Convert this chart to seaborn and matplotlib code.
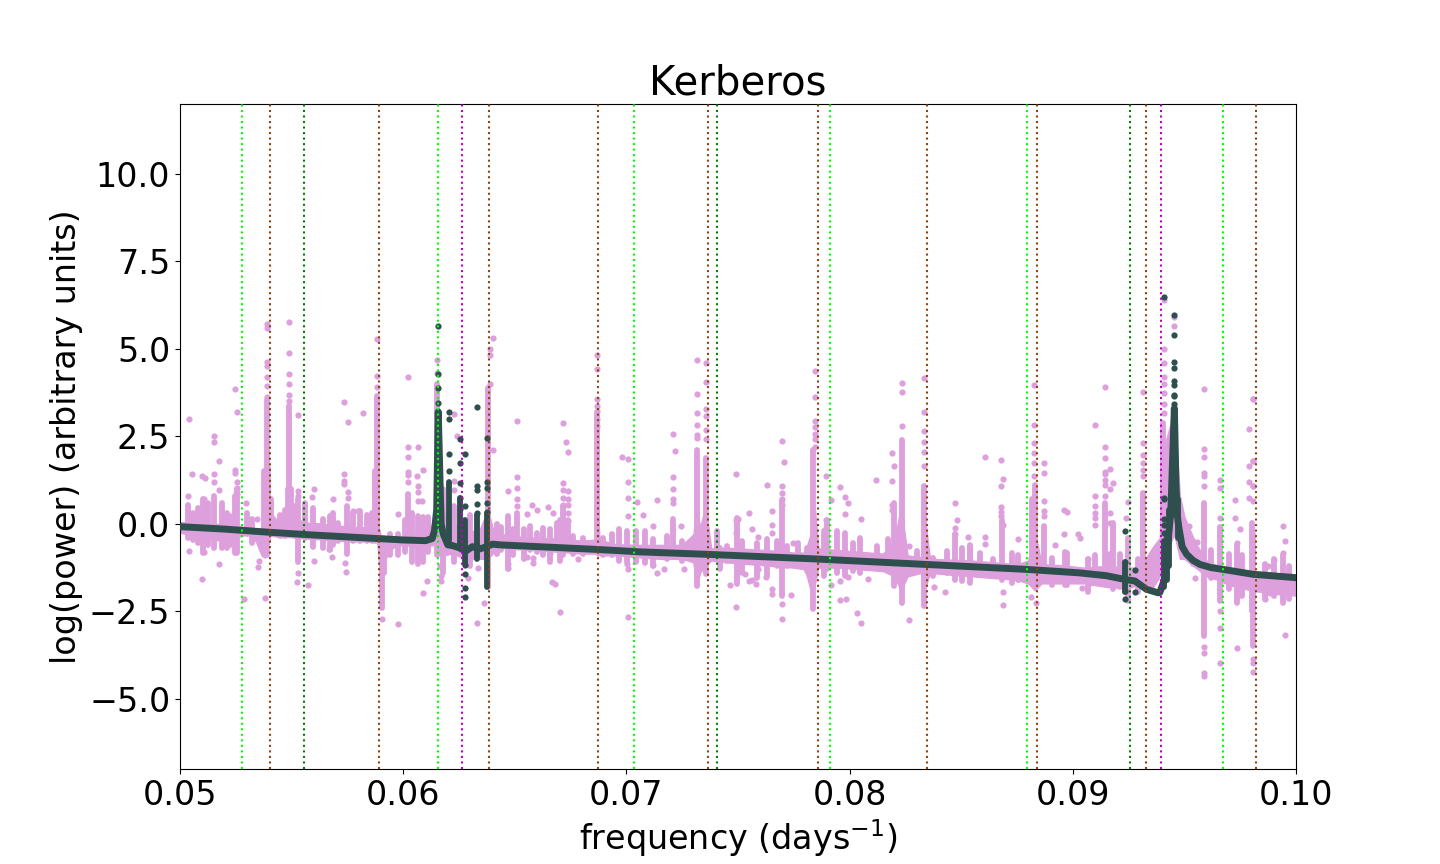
import matplotlib
matplotlib.use('Agg')
import matplotlib.pyplot as plt
import seaborn as sns

# marked frequencies, one list per colour
lime_lines = [0.05278, 0.06156, 0.07034, 0.07912, 0.08795, 0.09673]
brown_lines = [0.05403, 0.05892, 0.06384, 0.06874, 0.07366, 0.07858, 0.08345, 0.08840, 0.09328, 0.09821]
green_lines = [0.05556, 0.07406, 0.09258]
magenta_lines = [0.06263, 0.09395]

# dense part of the raw spectrum, upper and lower edge
band_freq = [0.0500, 0.0505, 0.0510, 0.0515, 0.0520, 0.0525, 0.0530, 0.0534, 0.0536, 0.0538, 0.05385, 0.0539,
             0.0540, 0.05418, 0.05448, 0.0547, 0.0549, 0.0551, 0.0556, 0.0560, 0.0564, 0.0570, 0.0578, 0.0584,
             0.0586, 0.0587, 0.0588, 0.05885, 0.0589, 0.0590, 0.05915, 0.0593, 0.0596, 0.0600, 0.0605, 0.0610,
             0.0614, 0.0616, 0.0618, 0.0622, 0.0626, 0.0630, 0.0634, 0.0638, 0.0640, 0.0645, 0.0650, 0.0660,
             0.0670, 0.0680, 0.0686, 0.0687, 0.0688, 0.0695, 0.0705, 0.0715, 0.0725, 0.0730, 0.07315, 0.0733,
             0.07355, 0.0738, 0.0745, 0.0755, 0.0765, 0.0775, 0.0780, 0.0783, 0.07845, 0.0786, 0.0795, 0.0805,
             0.0815, 0.0820, 0.0823, 0.0826, 0.0832, 0.08335, 0.0836, 0.0845, 0.0855, 0.0865, 0.0875, 0.0880,
             0.0883, 0.0886, 0.0895, 0.0905, 0.0915, 0.0925, 0.0930, 0.0936, 0.0939, 0.0940, 0.0944, 0.09455,
             0.0948, 0.0950, 0.0955, 0.0960, 0.0965, 0.0970, 0.0980, 0.0990, 0.1000]
band_upper = [0.05, 0.05, 0.05, 0.00, 0.00, -0.05, -0.10, -0.15, -0.15, -0.05, 0.30, 0.80,
              0.60, 0.22, 0.03, 0.20, 0.90, 0.20, 0.03, 0.03, 0.00, -0.05, -0.08, -0.10,
              0.10, 0.60, 1.20, 0.60, -0.10, -0.35, -0.45, -0.45, -0.42, -0.40, -0.30, -0.30,
              0.10, 2.50, 0.40, 0.00, -0.10, -0.20, -0.20, 0.40, -0.10, -0.30, -0.35, -0.40,
              -0.42, -0.48, -0.45, 0.50, -0.45, -0.58, -0.60, -0.60, -0.60, -0.30, 0.50, -0.10,
              0.50, -0.70, -0.68, -0.72, -0.76, -0.82, -0.82, -0.20, 0.40, -0.70, -0.75, -0.80,
              -0.85, -0.50, 0.50, -0.90, -0.95, 0.30, -1.00, -1.02, -1.05, -1.10, -1.15, -1.05,
              -0.20, -1.15, -1.18, -1.25, -1.20, -1.25, -1.25, -0.65, -0.40, 2.00, 2.90, 3.00,
              0.80, 0.20, -0.55, -1.05, -1.20, -1.30, -1.35, -1.40, -1.45]
band_lower = [-0.25, -0.33, -0.42, -0.45, -0.50, -0.40, -0.30, -0.50, -0.82, -0.97, -0.90, -0.40,
              -0.35, -0.35, -0.38, -0.38, -0.38, -0.38, -0.42, -0.43, -0.45, -0.48, -0.50, -0.50,
              -0.50, -0.50, -0.50, -0.60, -1.00, -1.60, -1.15, -0.85, -0.65, -0.60, -0.65, -0.65,
              -0.60, -0.90, -0.90, -0.85, -0.95, -1.00, -1.00, -1.00, -0.85, -0.70, -0.72, -0.75,
              -0.80, -0.85, -0.85, -0.90, -0.90, -0.90, -0.95, -1.00, -1.00, -1.10, -1.78, -1.40,
              -1.20, -1.05, -1.10, -1.15, -1.20, -1.25, -1.30, -2.00, -1.70, -1.25, -1.25, -1.30,
              -1.35, -1.50, -1.90, -1.50, -1.40, -1.90, -1.40, -1.45, -1.50, -1.55, -1.60, -1.70,
              -1.90, -1.70, -1.70, -1.70, -1.80, -1.85, -1.70, -1.80, -1.50, -1.20, -0.50, -0.30,
              -1.00, -1.00, -1.25, -1.50, -1.60, -1.75, -1.90, -2.00, -2.05]

# columns of points that merge into a solid stroke
column_freq = [0.05037, 0.05105, 0.05154, 0.05187, 0.05246, 0.05257, 0.05388, 0.05490, 0.05881, 0.05904, 0.06023,
               0.06068, 0.06150, 0.06381, 0.06471, 0.06511, 0.06718, 0.06740, 0.06867, 0.07210, 0.07315, 0.07355,
               0.07404, 0.07494, 0.07699, 0.07837, 0.07897, 0.08200, 0.08233, 0.08335, 0.08474, 0.08540, 0.08681,
               0.08816, 0.08830, 0.08873, 0.08965, 0.09144, 0.09181, 0.09249, 0.09316, 0.09405, 0.09588, 0.09659,
               0.09734, 0.09801, 0.09809, 0.09943]
column_top = [0.55, 0.70, 0.79, 0.60, 0.79, 1.00, 3.55, 3.36, 3.64, -0.50, 0.84,
              0.22, 4.00, 3.88, 0.22, 0.30, 0.50, 0.10, 3.17, 0.13, 2.12, 1.88,
              -0.21, 0.17, 0.69, 2.12, 0.10, 0.60, 2.40, 1.08, -0.30, -0.65, 0.10,
              0.70, 1.10, -0.07, -0.80, 0.60, 0.03, -0.40, 0.89, 2.88, 0.60, -0.10,
              -0.60, 0.03, -0.30, -0.90]
column_bottom = [-0.40, -0.82, -0.68, -0.68, -0.82, -0.82, -0.90, 0.00, -0.30, -2.39, -0.30,
                 -1.16, -0.90, -1.80, -1.30, -0.60, -0.90, -0.70, -0.60, -0.92, -1.78, -1.44,
                 -1.00, -1.73, -2.06, -2.44, -1.30, -1.78, -2.25, -2.35, -1.60, -1.70, -1.60,
                 -1.68, -1.00, -1.50, -1.75, -1.60, -1.87, -2.20, -1.50, -1.20, -3.20, -2.20,
                 -2.25, -2.50, -3.50, -2.25]

# shorter columns that make up the rough top and bottom of the band
comb_freq = [0.05060, 0.05082, 0.05127, 0.05209, 0.05224, 0.05299, 0.05321, 0.05378, 0.05396, 0.05408, 0.05448,
             0.05470, 0.05482, 0.05498, 0.05515, 0.05530, 0.05560, 0.05597, 0.05642, 0.05672, 0.05687, 0.05709,
             0.05747, 0.05777, 0.05806, 0.05836, 0.05859, 0.05873, 0.05912, 0.05940, 0.05978, 0.06010, 0.06040,
             0.06090, 0.06110, 0.06180, 0.06229, 0.06300, 0.06420, 0.06440, 0.06494, 0.06540, 0.06567, 0.06598,
             0.06627, 0.06657, 0.06687, 0.06702, 0.06762, 0.06807, 0.06897, 0.06934, 0.06966, 0.07003, 0.07044,
             0.07083, 0.07121, 0.07180, 0.07248, 0.07420, 0.07449, 0.07517, 0.07584, 0.07628, 0.07673, 0.07718,
             0.07770, 0.07809, 0.07886, 0.07942, 0.07979, 0.08017, 0.08047, 0.08122, 0.08173, 0.08300, 0.08375,
             0.08435, 0.08502, 0.08539, 0.08584, 0.08644, 0.08727, 0.08756, 0.08905, 0.08973, 0.09069, 0.09100,
             0.09165, 0.09210, 0.09290, 0.09540, 0.09620, 0.09700, 0.09760, 0.09860, 0.09900, 0.09970]
comb_top = [0.32, 0.46, 0.60, 0.32, 0.22, 0.32, 0.13, 1.50, 1.60, 0.70, 0.25,
            0.40, 1.00, 1.00, 0.50, 0.70, 0.60, 0.46, 0.13, 0.22, 0.30, 0.03,
            0.51, 0.32, 0.36, 0.25, 0.30, 1.50, -0.40, -0.30, -0.30, 0.10, 0.30,
            0.20, 0.20, 1.00, 0.50, 0.25, 0.00, -0.10, -0.16, -0.16, -0.06, -0.25,
            -0.11, -0.16, 0.03, 0.10, -0.35, -0.40, -0.40, -0.30, -0.16, -0.21, -0.20,
            -0.21, -0.44, -0.35, -0.49, -0.68, -0.63, -0.49, -0.54, -0.44, -0.49, -0.64,
            -0.54, -0.70, -0.21, -0.21, -0.26, -0.54, -0.40, -0.64, -0.44, -0.78, -0.97,
            -0.78, -0.68, -0.59, -0.83, -1.00, -0.83, -0.88, -0.97, -0.83, -1.00, -0.90,
            -0.85, -0.85, -1.00, -0.50, -0.75, -0.85, -0.90, -1.15, -1.00, -1.20]
comb_bottom = [-0.45, -0.54, -0.60, -0.68, -0.60, -0.30, -0.55, -0.90, -0.50, -0.30, -0.35,
               -0.35, -0.30, -0.30, -0.35, -1.10, -0.40, -0.65, -0.70, -0.75, -0.60, -0.50,
               -0.85, -0.50, -0.50, -0.50, -0.50, -0.50, -1.40, -0.90, -0.90, -0.80, -1.10,
               -1.10, -0.80, -1.40, -1.10, -1.20, -0.85, -0.75, -0.90, -1.00, -0.75, -0.80,
               -0.90, -1.10, -0.75, -1.05, -0.85, -0.85, -0.90, -0.90, -1.05, -1.10, -1.10,
               -1.11, -1.20, -1.00, -1.05, -1.30, -1.05, -1.40, -1.55, -1.50, -1.20, -1.20,
               -1.20, -1.35, -1.50, -1.40, -1.50, -1.35, -1.40, -1.25, -1.25, -1.30, -1.50,
               -1.40, -1.63, -1.54, -1.40, -1.50, -1.70, -1.60, -1.75, -1.75, -1.95, -1.70,
               -1.75, -1.80, -1.95, -1.15, -1.55, -1.85, -2.05, -2.15, -2.05, -2.15]

# peak stacks of the raw spectrum: one frequency, several powers
stack_freq = [0.05388, 0.05490, 0.05881, 0.06150, 0.06390, 0.06867, 0.07318, 0.07355, 0.07845, 0.08233, 0.08335,
              0.08828, 0.08872, 0.09144, 0.09316, 0.09410, 0.09455, 0.09588, 0.09659, 0.09809]
stack_power = [
    [5.72, 5.59, 4.61, 4.51, 4.19, 3.93, 3.62],
    [5.76, 4.88, 4.28, 4.00, 3.69, 3.50],
    [5.29, 4.21, 3.91],
    [4.69, 4.30, 3.90],
    [5.00, 4.83, 4.00],
    [4.81, 4.42, 3.58, 3.36, 3.22, 3.00, 2.80],
    [4.69, 3.71, 3.17, 2.81, 2.55, 2.45],
    [4.59, 4.04, 3.28, 3.09, 2.69, 2.41],
    [4.36, 3.62, 2.95, 2.77, 2.58, 2.43, 2.20],
    [4.02, 3.77, 2.79],
    [4.16, 3.20, 2.66, 2.33, 2.04, 1.65],
    [3.97, 2.81, 2.31, 2.03, 1.74, 1.36],
    [1.74, 1.46, 0.66, 0.36, 0.22],
    [3.91, 2.20, 1.88, 1.48, 1.43, 1.24, 1.10, 0.79],
    [3.77, 2.31, 1.97, 1.74, 1.55, 1.36],
    [6.40, 4.99, 4.59, 4.19, 3.99, 3.74, 3.41, 3.17],
    [5.91, 5.64],
    [3.85, 2.15, 1.91, 1.46, 1.36, 1.08, -3.53, -3.68, -4.25, -4.34],
    [1.24, 1.03, 0.17, -0.16, -2.49, -2.96, -3.98],
    [3.57, 1.79, 1.08, 0.65, -3.87, -3.96, -4.23],
]

# loose points of the raw spectrum
pink_freq = [0.05042, 0.05246, 0.05257, 0.05154, 0.05154, 0.05176, 0.05052, 0.05097, 0.05112, 0.05154, 0.05154,
             0.05246, 0.05246, 0.05257, 0.05257, 0.05257, 0.05037, 0.05176, 0.05108, 0.05294, 0.05343, 0.05042,
             0.05109, 0.05176, 0.05100, 0.05381, 0.05288, 0.05355, 0.05351, 0.05530, 0.05530, 0.05530, 0.05602,
             0.05593, 0.05687, 0.05736, 0.05751, 0.05821, 0.05736, 0.05736, 0.05736, 0.05751, 0.05751, 0.05777,
             0.05799, 0.05530, 0.05526, 0.05575, 0.05602, 0.05679, 0.05739, 0.05742, 0.05668, 0.06023, 0.06023,
             0.06068, 0.06023, 0.06023, 0.06023, 0.06023, 0.06063, 0.06090, 0.06068, 0.06068, 0.06068, 0.06083,
             0.05978, 0.05978, 0.05904, 0.06090, 0.06105, 0.06168, 0.06168, 0.06165, 0.06229, 0.06240, 0.06229,
             0.06229, 0.06363, 0.06332, 0.06702, 0.06668, 0.06680, 0.06471, 0.06511, 0.06511, 0.06511, 0.06511,
             0.06576, 0.06601, 0.06650, 0.06670, 0.06553, 0.06404, 0.06404, 0.06471, 0.06471, 0.06553, 0.06583,
             0.06583, 0.06658, 0.06688, 0.06292, 0.06337, 0.06511,
             0.06718, 0.06730, 0.06740, 0.06718, 0.06718, 0.06718, 0.06718, 0.06718, 0.06740, 0.06740, 0.06740,
             0.06740, 0.06740, 0.06982, 0.07005, 0.07005, 0.07005, 0.07046, 0.07005, 0.07005, 0.07002, 0.07005,
             0.06781,
             0.07073, 0.07121, 0.07139, 0.07246, 0.07210, 0.07219, 0.07210, 0.07210, 0.07210, 0.07210, 0.07260,
             0.07170, 0.07139, 0.07121, 0.07493, 0.07631, 0.07551, 0.07502, 0.07493, 0.07493, 0.07564, 0.07591,
             0.07654, 0.07654, 0.07654, 0.07699, 0.07708, 0.07699, 0.07699, 0.07699, 0.07699, 0.07748, 0.07466,
             0.07493, 0.07533, 0.07551, 0.07564, 0.07582, 0.07627, 0.07654, 0.07654, 0.07591, 0.07699, 0.07699,
             0.07739, 0.07896, 0.07918, 0.07896, 0.07896, 0.07959, 0.07981, 0.07994, 0.07981, 0.08053, 0.08120,
             0.08192, 0.08201, 0.08192, 0.08192, 0.08192, 0.07959, 0.07985, 0.08035, 0.08053, 0.08268, 0.08268,
             0.08084, 0.07959, 0.07994, 0.07918, 0.08380, 0.08429, 0.08371, 0.08474, 0.08483, 0.08474, 0.08474,
             0.08532, 0.08608, 0.08608, 0.08608, 0.08680, 0.08689, 0.08680, 0.08680, 0.08680, 0.08680, 0.08689,
             0.08689, 0.08689, 0.08756, 0.08962, 0.08975, 0.08962, 0.08922, 0.08814, 0.08837, 0.09022, 0.08756,
             0.09101, 0.09101, 0.09101, 0.09101, 0.09101, 0.09101, 0.09168, 0.09181, 0.09168, 0.09168, 0.09168,
             0.09249, 0.09238, 0.09726, 0.09726, 0.09749, 0.09737, 0.09737, 0.09791, 0.09809, 0.09791, 0.09809,
             0.09791, 0.09809, 0.09791, 0.09943, 0.09950, 0.09943, 0.09903, 0.09876, 0.09950, 0.09885, 0.09862,
             0.09522, 0.09517, 0.09558, 0.09549, 0.09077, 0.09042, 0.09032, 0.09069]
pink_power = [3.00, 3.85, 3.20, 2.50, 2.34, 1.79, 1.43, 1.36, 1.30, 1.43, 1.19,
              1.55, 1.46, 1.19, 1.03, 0.84, 0.79, 0.98, 0.72, 0.60, 0.15, -0.78,
              -0.80, -1.14, -1.58, -2.11, -2.16, -1.06, -1.22, 3.12, 0.93, 0.79, 1.00,
              0.77, 0.72, 3.48, 2.91, 3.17, 1.41, 1.22, 1.15, 0.92, 0.74, 0.38,
              0.38, -1.39, -1.65, -1.76, -1.05, -0.94, -1.11, -1.37, -0.73, 4.19, 2.20,
              2.20, 1.91, 1.49, 1.39, 1.19, 1.36, 1.55, 1.08, 0.91, 0.65, 0.65,
              0.27, -2.87, -2.73, -1.97, -1.63, -1.49, -1.63, -1.20, 3.15, 2.52, 1.22,
              0.96, -2.25, -2.82, -2.51, -1.66, -1.73, 0.94, 1.34, 1.03, 0.70, 0.51,
              0.53, 0.41, 0.49, 0.30, 0.29, 5.31, 2.12, -1.16, -1.25, -0.94, -0.97,
              -1.11, -0.82, -0.68, -1.54, -1.25, 2.93,
              2.88, 2.33, 2.06, 1.17, 0.96, 0.74, 0.53, 0.32, 0.93, 0.72, 0.53,
              0.32, 0.08, 1.91, 1.84, 1.20, 0.74, 0.63, 0.22, -2.65, -1.14, -1.30,
              -0.99,
              0.25, -0.07, 0.69, -0.07, 2.57, 2.07, 1.34, 1.00, 0.70, 0.60, -1.28,
              -1.28, -1.40, -1.17, 1.41, 1.11, 0.30, 0.14, 0.10, -0.26, -0.14, -0.37,
              0.37, -0.03, -0.26, 2.38, 1.77, 1.07, 0.89, 0.70, 0.55, -0.54, -1.74,
              -2.37, -1.42, -1.62, -1.59, -1.71, -1.51, -1.85, -2.00, -1.30, -2.28, -2.71,
              -2.02, 1.37, 0.69, 0.10, -0.11, 1.06, 0.77, 0.60, 0.29, 0.14, 1.26,
              2.03, 1.66, 1.23, 0.53, 0.41, -2.17, -2.14, -2.54, -2.82, -2.76, -0.63,
              -1.57, -1.62, -1.51, -1.74, -1.80, -1.94, -0.97, 0.60, 0.10, -0.11, -0.28,
              -0.37, 1.91, -0.37, -0.57, 1.83, 1.29, 1.09, 0.48, 0.35, 0.22, -0.03,
              -1.94, -2.31, -0.43, 0.41, 0.34, -0.28, -0.60, -2.08, -2.25, -0.28, -1.57,
              2.83, 0.79, 0.51, 0.32, 0.17, -0.02, 1.57, 1.17, 1.00, 0.32, 0.03,
              0.63, 0.17, 0.67, 0.17, -0.16, -0.54, -3.55, 2.71, 3.57, 1.65, 1.79,
              1.20, 1.08, 0.74, -0.06, -0.49, -0.83, -1.03, -1.19, -3.16, -1.97, -2.16,
              -0.06, -0.28, -0.51, -1.54, -1.68, -1.82, -0.40, -1.00]

# fitted spectrum
fit_freq = [0.0500, 0.0520, 0.0540, 0.0560, 0.0580, 0.0600, 0.0610, 0.0613, 0.0614, 0.0615, 0.06157, 0.0617, 0.0618,
            0.0620, 0.0622, 0.0625, 0.0628, 0.0631, 0.0634, 0.0637, 0.0640, 0.06434, 0.06867, 0.0706, 0.0736, 0.0784,
            0.08345, 0.08793, 0.0903, 0.0915, 0.09235, 0.09278, 0.0933, 0.09383, 0.0939, 0.0941, 0.09422, 0.09439,
            0.09448, 0.09455, 0.09462, 0.09467, 0.09475, 0.0949, 0.0951, 0.0954, 0.0957, 0.0962, 0.09673, 0.09807,
            0.09987, 0.1000]
fit_power = [-0.08, -0.15, -0.24, -0.32, -0.39, -0.46, -0.48, -0.42, -0.20, 0.40, 3.20, 0.00, -0.30,
             -0.60, -0.62, -0.68, -0.78, -0.65, -0.72, -0.66, -0.58, -0.60, -0.73, -0.80, -0.87, -1.00,
             -1.16, -1.30, -1.40, -1.48, -1.59, -1.63, -1.87, -1.97, -1.96, -1.60, -0.80, 0.30,
             2.00, 3.30, 1.20, 0.30, -0.10, -0.65, -0.87, -1.05, -1.16, -1.25, -1.30, -1.44,
             -1.53, -1.54]

fit_col_freq = [0.06203, 0.06256, 0.06278, 0.06332, 0.06377, 0.09235, 0.09410, 0.09422, 0.09430, 0.09470]
fit_col_top = [1.20, 0.75, 0.10, 0.25, 0.30, -1.10, -0.50, -0.30, 0.40, 0.70]
fit_col_bottom = [-0.50, -0.70, -1.15, -1.00, -1.80, -1.95, -1.80, -1.60, -1.20, -0.40]

# loose points of the fitted spectrum
fit_pt_freq = [0.06157, 0.06157, 0.06157, 0.06157, 0.06157, 0.06157, 0.06203, 0.06203, 0.06203, 0.06203, 0.06256,
               0.06256, 0.06256, 0.06256, 0.06256, 0.06278, 0.06278, 0.06278, 0.06278, 0.06278, 0.06278, 0.06332,
               0.06332, 0.06332, 0.06332, 0.06332, 0.06377, 0.06377, 0.06377, 0.06377, 0.06377, 0.09410, 0.09455,
               0.09455, 0.09455, 0.09455, 0.09455, 0.09455, 0.09455, 0.09455, 0.09455, 0.09410, 0.09410, 0.09410,
               0.09410, 0.09410, 0.09235, 0.09235, 0.09235, 0.09235, 0.09280, 0.09280]
fit_pt_power = [5.64, 4.28, 3.87, 3.45, 3.20, 3.00, 3.20, 3.00, 2.00, 1.50, 2.43,
                1.74, 1.17, 0.73, 0.43, 2.00, 0.52, -1.18, -1.42, -1.82, -2.08, 3.34,
                1.09, 0.96, 0.57, 0.32, 2.45, 1.19, 1.03, 0.60, 0.35, 6.48, 5.96,
                5.39, 4.63, 4.45, 4.09, 3.97, 3.69, 3.64, 3.43, 0.75, 0.70, 0.13,
                -0.02, -0.25, -0.20, -1.08, -1.93, -2.14, -1.31, -1.94]

# spread the stacks out into flat x / y lists
stack_x = []
stack_y = []
for f, powers in zip(stack_freq, stack_power):
    stack_x += [f] * len(powers)
    stack_y += powers

fig, ax = plt.subplots(figsize=(14.4, 8.64), dpi=100)

# raw spectrum
ax.fill_between(band_freq, band_lower, band_upper, color='plum', linewidth=1, zorder=1)
ax.vlines(column_freq, column_bottom, column_top, color='plum', linewidth=4.2, capstyle='round', zorder=1)
ax.vlines(comb_freq, comb_bottom, comb_top, color='plum', linewidth=4.2, capstyle='round', zorder=1)
sns.scatterplot(x=pink_freq + stack_x, y=pink_power + stack_y, color='plum', s=20, linewidth=0,
                legend=False, ax=ax, zorder=2)

# fit on top
sns.lineplot(x=fit_freq, y=fit_power, color='darkslategray', linewidth=5, estimator=None, sort=False,
             solid_joinstyle='round', legend=False, ax=ax, zorder=3)
ax.vlines(fit_col_freq, fit_col_bottom, fit_col_top, color='darkslategray', linewidth=4.2,
          capstyle='round', zorder=3)
sns.scatterplot(x=fit_pt_freq, y=fit_pt_power, color='darkslategray', s=20, linewidth=0,
                legend=False, ax=ax, zorder=4)

for freqs, col in [(lime_lines, 'lime'), (brown_lines, 'saddlebrown'), (green_lines, 'green'), (magenta_lines, 'm')]:
    for f in freqs:
        ax.axvline(f, color=col, linestyle=':', linewidth=1.5, zorder=5)

ax.set_xlim(0.05, 0.10)
ax.set_ylim(-7, 12)
ax.set_yticks([-5, -2.5, 0, 2.5, 5, 7.5, 10])
ax.set_xticks([0.05, 0.06, 0.07, 0.08, 0.09, 0.10])
ax.set_xticklabels(['0.05', '0.06', '0.07', '0.08', '0.09', '0.10'])
ax.tick_params(labelsize=24)
ax.set_title('Kerberos', fontsize=29)
ax.set_xlabel('frequency (days$^{-1}$)', fontsize=24)
ax.set_ylabel('log(power) (arbitrary units)', fontsize=24)

plt.savefig('out.png', dpi=100)
plt.close()
